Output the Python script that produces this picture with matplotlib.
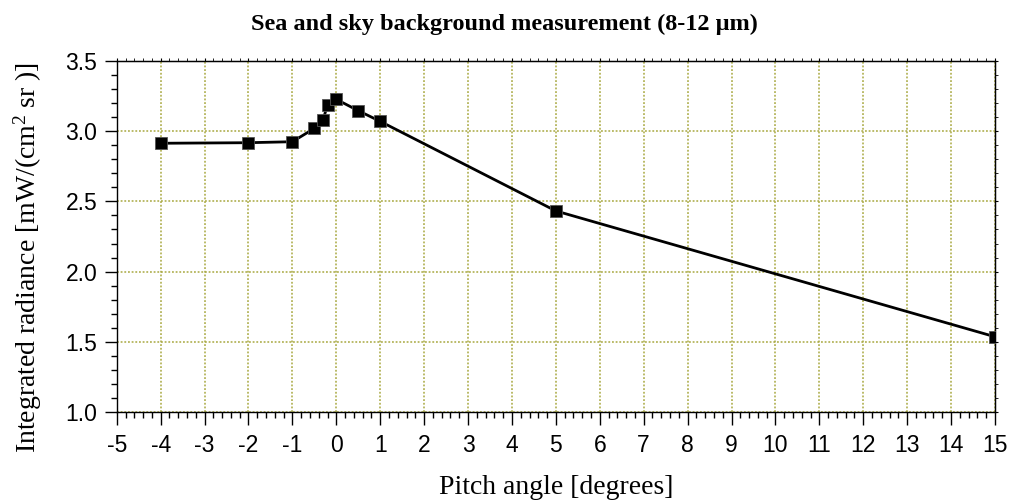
import matplotlib
matplotlib.use("Agg")
import matplotlib.pyplot as plt
from matplotlib.ticker import MultipleLocator

# pitch angle (degrees) vs integrated radiance, 8-12 um band
pitch = [-4, -2, -1, -0.5, -0.3, -0.2, 0, 0.5, 1, 5, 15]
radiance = [2.914, 2.918, 2.925, 3.02, 3.08, 3.19, 3.227, 3.146, 3.07, 2.432, 1.536]

x_ticks = list(range(-5, 16))
y_ticks = [1.0, 1.5, 2.0, 2.5, 3.0, 3.5]

plt.rcParams['mathtext.fontset'] = 'custom'
plt.rcParams['mathtext.rm'] = 'Liberation Serif'
plt.rcParams['mathtext.it'] = 'Liberation Serif'

fig = plt.figure(figsize=(10.09, 5.04), dpi=100)
ax = fig.add_axes([0.1157, 0.1825, 0.9861 - 0.1157, 0.879 - 0.1825])

ax.plot(pitch, radiance, color='black', lw=2, marker='s', markersize=8,
        markerfacecolor='black', markeredgecolor='#555555', markeredgewidth=0.6,
        zorder=3)

ax.set_xlim(-5, 15)
ax.set_ylim(1.0, 3.5)
ax.set_xticks(x_ticks)
ax.set_yticks(y_ticks)
ax.set_xticklabels([str(t) for t in x_ticks])
ax.set_yticklabels(['%.1f' % t for t in y_ticks])
ax.xaxis.set_minor_locator(MultipleLocator(0.2))
ax.yaxis.set_minor_locator(MultipleLocator(0.1))

ax.tick_params(which='major', direction='out', length=9, width=1, labelsize=16.5)
ax.tick_params(axis='x', which='major', pad=7)
ax.tick_params(axis='y', which='major', pad=5)
ax.tick_params(which='minor', direction='out', length=4.3, width=1)
for lab in ax.get_xticklabels() + ax.get_yticklabels():
    lab.set_fontfamily('Liberation Sans')

# short ticks along top and right edges
top = ax.secondary_xaxis('top')
top.xaxis.set_minor_locator(MultipleLocator(0.2))
top.set_xticks(x_ticks)
top.tick_params(which='both', direction='out', length=2, labeltop=False)
right = ax.secondary_yaxis('right')
right.yaxis.set_minor_locator(MultipleLocator(0.1))
right.set_yticks(y_ticks)
right.tick_params(which='both', direction='out', length=2.5, labelright=False)

ax.grid(True, which='major', color='#a8a840', linestyle=(0, (1.2, 1.2)), lw=1.1)
for side in ['top', 'right', 'bottom', 'left']:
    ax.spines[side].set_linewidth(1)

ax.set_xlabel('Pitch angle [degrees]', fontfamily='Liberation Serif',
              fontsize=20, labelpad=13)
ax.set_ylabel(r'Integrated radiance [mW/(cm$^{2}$ sr )]',
              fontfamily='Liberation Serif', fontsize=20)
ax.yaxis.set_label_coords(-0.083, 0.44)
fig.text(0.5, 0.952, 'Sea and sky background measurement (8-12 μm)',
         ha='center', va='center', fontfamily='Liberation Serif',
         fontweight='bold', fontsize=17.5)

fig.savefig('out.png', dpi=100)
